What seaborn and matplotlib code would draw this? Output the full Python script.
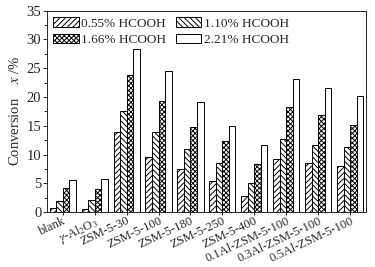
import pandas as pd
import numpy as np
import matplotlib
matplotlib.use("Agg")
import matplotlib.pyplot as plt
import seaborn as sns
from matplotlib.ticker import MultipleLocator

# Data
catalysts = ['blank', r'$\gamma$-Al$_2$O$_3$', 'ZSM-5-30', 'ZSM-5-100', 'ZSM-5-180',
             'ZSM-5-250', 'ZSM-5-400', '0.1Al-ZSM-5-100', '0.3Al-ZSM-5-100',
             '0.5Al-ZSM-5-100']
series = ['0.55% HCOOH', '1.10% HCOOH', '1.66% HCOOH', '2.21% HCOOH']
conv_055 = [0.8, 0.6, 13.9, 9.6, 7.5, 5.4, 2.9, 9.2, 8.5, 8.0]
conv_110 = [2.0, 2.1, 17.5, 14.0, 11.0, 8.5, 5.0, 12.8, 11.7, 11.4]
conv_166 = [4.2, 4.1, 23.8, 19.4, 14.8, 12.4, 8.4, 18.3, 16.9, 15.2]
conv_221 = [5.6, 5.8, 28.3, 24.5, 19.2, 15.0, 11.6, 23.1, 21.6, 20.1]

df = pd.DataFrame({
    'catalyst': catalysts * 4,
    'series': np.repeat(series, len(catalysts)),
    'conversion': conv_055 + conv_110 + conv_166 + conv_221,
})

sns.set_style("ticks")
plt.rcParams['font.family'] = ['Liberation Serif', 'DejaVu Serif']
plt.rcParams['mathtext.fontset'] = 'stix'
plt.rcParams['font.size'] = 10
plt.rcParams['hatch.linewidth'] = 0.7

fig, ax = plt.subplots(figsize=(3.75, 2.67), dpi=100)
sns.barplot(data=df, x='catalyst', y='conversion', hue='series',
            order=catalysts, hue_order=series, width=0.82,
            color='white', saturation=1, edgecolor='black', linewidth=0.7,
            errorbar=None, legend=False, ax=ax)

hatches = ['//////', '\\\\\\\\\\\\', 'xxxxxxx', '']
for cont, h in zip(ax.containers, hatches):
    for p in cont.patches:
        p.set_facecolor('white')
        p.set_hatch(h)

# row-wise legend order
order = [0, 2, 1, 3]
ax.legend([ax.containers[i] for i in order], [series[i] for i in order],
          loc='upper left', ncol=2, frameon=False,
          handlelength=1.9, handleheight=0.75, handletextpad=0.2,
          columnspacing=0.75, labelspacing=0.3, borderaxespad=0.3,
          borderpad=0.2, fontsize=9.5)

ax.set_ylim(0, 35)
ax.set_xlim(-0.5, len(catalysts) - 0.5)
ax.yaxis.set_major_locator(MultipleLocator(5))
ax.yaxis.set_minor_locator(MultipleLocator(2.5))
ax.tick_params(axis='y', which='major', length=3, width=0.7, labelsize=10.5, pad=1)
ax.tick_params(axis='y', which='minor', length=2, width=0.7)
ax.tick_params(axis='x', length=2, width=0.7, labelsize=9, pad=0)
ax.set_xticks(range(len(catalysts)))
ax.set_xticklabels(catalysts, rotation=25, ha='right', rotation_mode='anchor')
ax.set_xlabel('')
ax.set_ylabel('Conversion    $x$ /%', fontsize=10.5, labelpad=3)
for s in ax.spines.values():
    s.set_visible(True)
    s.set_linewidth(0.7)

plt.subplots_adjust(left=0.125, right=0.976, top=0.96, bottom=0.205)
plt.savefig('out.png', dpi=100)
